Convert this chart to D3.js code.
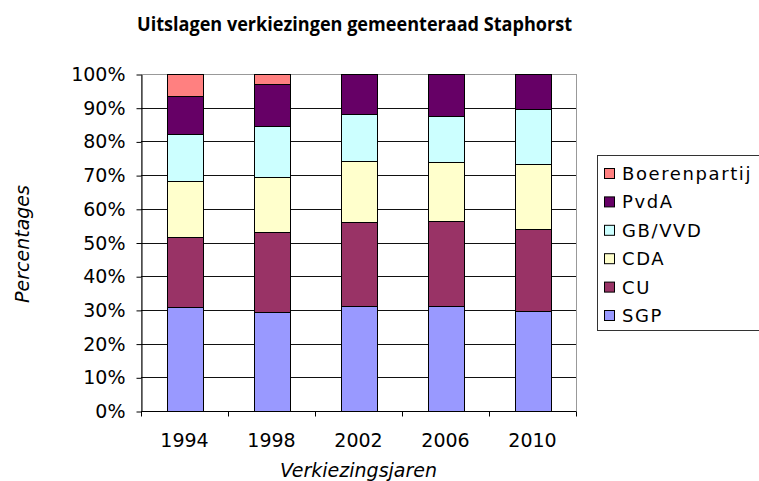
<!DOCTYPE html>
<html>
<head>
<meta charset="utf-8">
<script src="https://cdn.jsdelivr.net/npm/d3@7"></script>
<style>
  body { margin: 0; background: #fff; }
  text { font-family: "DejaVu Sans", Verdana, sans-serif; fill: #000; }
</style>
</head>
<body>
<script>
// election years and party shares (percent of seats)
const years = ["1994", "1998", "2002", "2006", "2010"];
const parties = ["SGP", "CU", "CDA", "GB/VVD", "PvdA", "Boerenpartij"];
const sgp  = [30.8, 29.3, 31.3, 31.2, 29.8];
const cu   = [20.7, 23.7, 24.7, 25.3, 24.2];
const cda  = [16.8, 16.3, 18.3, 17.3, 19.3];
const gbvvd = [13.9, 15.4, 13.8, 13.8, 16.3];
const pvda = [11.4, 12.3, 11.9, 12.4, 10.4];
const boer = [6.4, 3.0, 0, 0, 0];
const yTicks = [0, 10, 20, 30, 40, 50, 60, 70, 80, 90, 100];
const colors = ["#9999FF", "#993366", "#FFFFCC", "#CCFFFF", "#660066", "#FF8080"];

const width = 759, height = 481;
const plotL = 141, plotR = 576, plotT = 74, plotB = 411;

const series = [sgp, cu, cda, gbvvd, pvda, boer];
const table = years.map((y, i) => {
  const row = { year: y };
  parties.forEach((p, j) => row[p] = series[j][i]);
  return row;
});
const stacked = d3.stack().keys(parties)(table);

const svg = d3.select("body").append("svg")
  .attr("width", width).attr("height", height);

const x = d3.scaleBand().domain(years).range([plotL, plotR])
  .paddingInner(0.59).paddingOuter(0.295);
const y = d3.scaleLinear().domain([0, 100]).range([plotB, plotT]);
const color = d3.scaleOrdinal().domain(parties).range(colors);

// plot frame (top and right in grey)
svg.append("rect")
  .attr("x", plotL + 0.5).attr("y", plotT + 0.5)
  .attr("width", plotR - plotL).attr("height", plotB - plotT)
  .attr("fill", "#fff").attr("stroke", "#999");

// gridlines
svg.append("g").selectAll("line")
  .data(yTicks.filter(d => d > 0 && d < 100))
  .enter().append("line")
  .attr("x1", plotL).attr("x2", plotR)
  .attr("y1", d => Math.round(y(d)) + 0.5).attr("y2", d => Math.round(y(d)) + 0.5)
  .attr("stroke", "#111");

// bars
svg.append("g").selectAll("g")
  .data(stacked)
  .enter().append("g")
  .attr("fill", d => color(d.key))
  .selectAll("rect")
  .data(d => d.filter(v => v[1] - v[0] > 0))
  .enter().append("rect")
  .attr("x", d => Math.round(x(d.data.year)) + 0.5)
  .attr("y", d => Math.round(y(d[1])) + 0.5)
  .attr("width", Math.round(x.bandwidth()))
  .attr("height", d => Math.round(y(d[0])) - Math.round(y(d[1])))
  .attr("stroke", "#000");

// y axis
const yAxis = svg.append("g")
  .attr("transform", `translate(${plotL + 0.5},0.5)`)
  .call(d3.axisLeft(y).tickValues(yTicks).tickFormat(d => d + "%").tickSize(5).tickSizeOuter(0));
yAxis.select(".domain").attr("stroke", "#000");
yAxis.selectAll(".tick line").attr("stroke", "#000");
yAxis.selectAll("text")
  .attr("x", -16)
  .style("font-size", "19px")
  .style("font-family", "DejaVu Sans, sans-serif")
  .attr("fill", "#000");

// x axis with ticks between categories
const xAxis = svg.append("g")
  .attr("transform", `translate(0,${plotB + 0.5})`);
xAxis.append("line")
  .attr("x1", plotL).attr("x2", plotR)
  .attr("stroke", "#000");
const step = x.step();
xAxis.selectAll("line.tk")
  .data(d3.range(years.length + 1))
  .enter().append("line").attr("class", "tk")
  .attr("x1", i => Math.round(plotL + i * step) + 0.5)
  .attr("x2", i => Math.round(plotL + i * step) + 0.5)
  .attr("y1", 0).attr("y2", 5)
  .attr("stroke", "#000");
xAxis.selectAll("text")
  .data(years)
  .enter().append("text")
  .attr("x", d => x(d) + x.bandwidth() / 2)
  .attr("y", 35)
  .attr("text-anchor", "middle")
  .style("font-size", "19px")
  .text(d => d);

// titles
svg.append("text")
  .attr("x", 137).attr("y", 31)
  .attr("textLength", 435).attr("lengthAdjust", "spacingAndGlyphs")
  .style("font-family", "'Open Sans', sans-serif")
  .style("font-weight", "bold")
  .style("font-size", "19px")
  .text("Uitslagen verkiezingen gemeenteraad Staphorst");

svg.append("text")
  .attr("transform", "translate(29,244) rotate(-90)")
  .attr("text-anchor", "middle")
  .style("font-style", "italic")
  .style("font-size", "19px")
  .text("Percentages");

svg.append("text")
  .attr("x", (plotL + plotR) / 2).attr("y", 477)
  .attr("text-anchor", "middle")
  .style("font-style", "italic")
  .style("font-size", "19px")
  .text("Verkiezingsjaren");

// legend
const legend = svg.append("g");
legend.append("rect")
  .attr("x", 597.5).attr("y", 155.5)
  .attr("width", 180).attr("height", 175)
  .attr("fill", "#fff").attr("stroke", "#333");
const legendOrder = parties.slice().reverse();
const item = legend.selectAll("g.item")
  .data(legendOrder)
  .enter().append("g").attr("class", "item")
  .attr("transform", (d, i) => `translate(0,${173 + i * 28.4})`);
item.append("rect")
  .attr("x", 604.5).attr("y", -4.5)
  .attr("width", 10).attr("height", 10)
  .attr("fill", d => color(d)).attr("stroke", "#000");
item.append("text")
  .attr("x", 622).attr("y", 7)
  .style("font-size", "18px")
  .style("letter-spacing", "1.6px")
  .text(d => d);
</script>
</body>
</html>
